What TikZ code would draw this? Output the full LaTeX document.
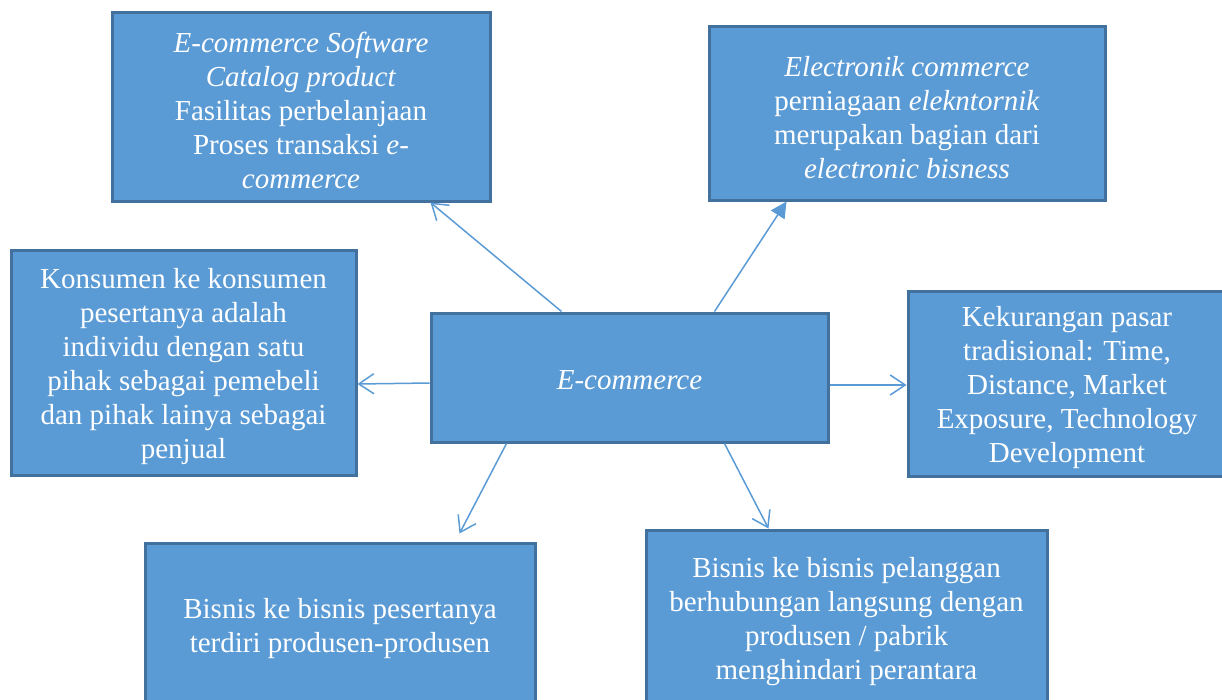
\documentclass[tikz,border=0pt]{standalone}
\usepackage{fontspec}
\setmainfont{Liberation Serif}
\usetikzlibrary{arrows.meta}
\definecolor{boxfill}{HTML}{5B9BD5}
\definecolor{boxline}{HTML}{41719C}
\newcommand{\topgap}{\rule{0pt}{29pt}}
\begin{document}
\begin{tikzpicture}[x=1pt,y=-1pt,
    box/.style={draw=boxline, fill=boxfill, line width=3pt, text=white, align=center,
      inner sep=0pt, font=\fontsize{29}{34}\selectfont},
    arr/.style={draw=boxfill, line width=1.5pt, -{Straight Barb[length=15pt,width=20pt]}},
    arrfill/.style={draw=boxfill, fill=boxfill, line width=1.5pt, -{Triangle[length=16pt,width=16pt]}}]
                \useasboundingbox (0,0) rectangle (1222,699);

                \node[box, minimum width=397pt, minimum height=129pt] (ecommerce) at (629.5,377.5) {\rule{0pt}{25pt}\textit{E-commerce}};

                \node[box, minimum width=378pt, minimum height=189pt] (software) at (301,106.5)
                  {\topgap\textit{E-commerce Software}\\ \textit{Catalog product}\\ Fasilitas perbelanjaan\\ Proses transaksi \textit{e-}\\ \textit{commerce}};

                \node[box, minimum width=396pt, minimum height=174pt] (electronic) at (907,113)
                  {\topgap\textit{Electronik commerce}\\ perniagaan \textit{elekntornik}\\ merupakan bagian dari\\ \textit{electronic bisness}};

                \node[box, minimum width=345pt, minimum height=225pt] (konsumen) at (183.5,362.5)
                  {\topgap Konsumen ke konsumen\\ pesertanya adalah\\ individu dengan satu\\ pihak sebagai pemebeli\\ dan pihak lainya sebagai\\ penjual};

                \node[box, minimum width=318pt, minimum height=185pt] (kekurangan) at (1067,383.5)
                  {\topgap Kekurangan pasar\\ tradisional: Time,\\ Distance, Market\\ Exposure, Technology\\ Development};

                \node[box, minimum width=390pt, minimum height=162pt] (bisnis) at (340,624)
                  {\topgap Bisnis ke bisnis pesertanya\\ terdiri produsen-produsen};

                \node[box, minimum width=401pt, minimum height=175pt] (pelanggan) at (846.5,617.5)
                  {\topgap Bisnis ke bisnis pelanggan\\ berhubungan langsung dengan\\ produsen / pabrik\\ menghindari perantara};

                \draw[arr] ([xshift=132pt]ecommerce.north west) -- ([xshift=320pt]software.south west);

                \draw[arrfill] ([xshift=285pt]ecommerce.north west) -- ([xshift=79pt]electronic.south west);

                \draw[arr] ([yshift=-5.5pt]ecommerce.west) -- ([yshift=-21.5pt]konsumen.east);

                \draw[arr] ([yshift=-7.5pt]ecommerce.east) -- ([yshift=-1.5pt]kekurangan.west);

                \draw[arr] ([xshift=77pt]ecommerce.south west) -- ([xshift=316pt,yshift=8pt]bisnis.north west);

                \draw[arr] ([xshift=295pt]ecommerce.south west) -- ([xshift=124pt]pelanggan.north west);
            \end{tikzpicture}
\end{document}
